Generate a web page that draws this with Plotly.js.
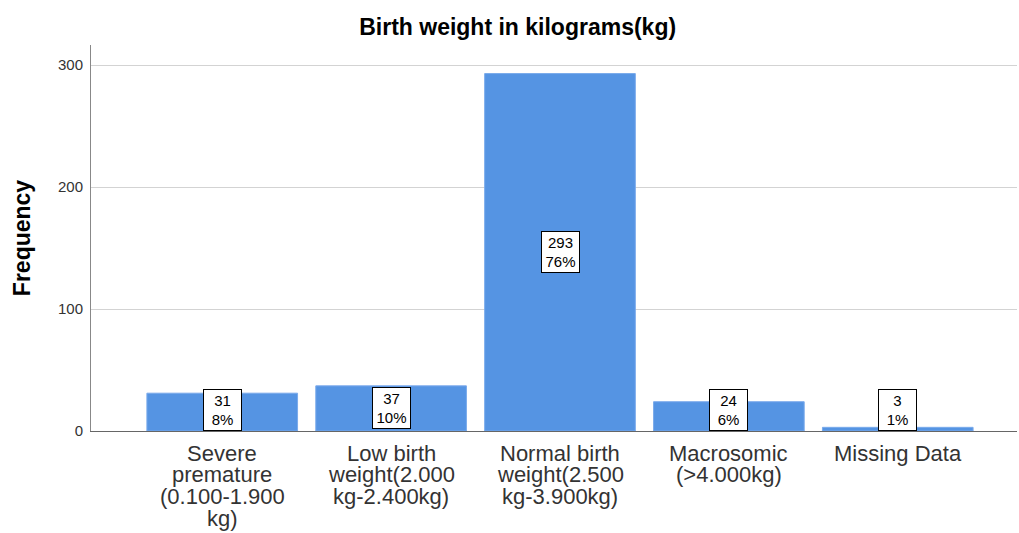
<!DOCTYPE html>
<html><head><meta charset="utf-8">
<script src="https://cdn.plot.ly/plotly-3.0.1.min.js"></script>
<style>html,body{margin:0;padding:0;background:#fff;}#chart{width:1019px;height:533px;}</style>
</head><body><div id="chart"></div>
<script>
const categories = [
  "Severe<br>premature<br>(0.100-1.900<br>kg)",
  "Low birth<br>weight(2.000<br>kg-2.400kg)",
  "Normal birth<br>weight(2.500<br>kg-3.900kg)",
  "Macrosomic<br>(>4.000kg)",
  "Missing Data"
];
const frequencies = [31, 37, 293, 24, 3];
const percentLabels = ["8%", "10%", "76%", "6%", "1%"];
const yTicks = [0, 100, 200, 300];

const FONT = 'Liberation Sans, Arial, sans-serif';
const xIdx = categories.map((_, i) => i);
const minCenter = 17.5;
const annotations = frequencies.map((v, i) => ({
  x: i, y: Math.max(v / 2, minCenter), xref: 'x', yref: 'y',
  text: v + '<br>' + percentLabels[i], showarrow: false,
  bgcolor: '#ffffff', bordercolor: '#000000', borderwidth: 1, borderpad: 1,
  width: 35, height: 38,
  font: {family: FONT, size: 15, color: '#000'},
  yanchor: 'middle'
}));
// category labels, one annotation per line for tight SPSS-like line spacing
categories.forEach((c, i) => {
  c.split('<br>').forEach((line, k) => {
    annotations.push({
      x: i, y: 0, xref: 'x', yref: 'y', text: line, showarrow: false,
      yanchor: 'middle', xanchor: 'center', yshift: -(22 + k * 21.7),
      font: {family: FONT, size: 22, color: '#333'}
    });
  });
});

Plotly.newPlot('chart', [{
  type: 'bar', x: xIdx, y: frequencies, width: 0.892,
  marker: {color: '#5594e3', line: {color: '#7aaaeb', width: 1}},
  hoverinfo: 'none'
}], {
  width: 1019, height: 533,
  margin: {l: 91, r: 2, t: 45, b: 102},
  paper_bgcolor: '#fff', plot_bgcolor: '#fff',
  font: {family: FONT, color: '#222'},
  title: {text: '<b>Birth weight in kilograms(kg)</b>', x: 0.508, xanchor: 'center', y: 0.95, yanchor: 'middle',
          font: {size: 23, color: '#000'}},
  xaxis: {range: [-0.777, 4.706], tickmode: 'array', tickvals: xIdx,
          showgrid: false, zeroline: false, showline: true, linecolor: '#666', linewidth: 1,
          ticks: '', showticklabels: false, fixedrange: true},
  yaxis: {range: [0, 316.4], tickmode: 'array', tickvals: yTicks, ticktext: yTicks.map(String),
          showgrid: true, gridcolor: '#d3d3d3', gridwidth: 1, zeroline: false,
          showline: true, linecolor: '#888', linewidth: 1, ticks: '', ticklabelstandoff: 4,
          tickfont: {size: 15, color: '#333'},
          title: {text: '<b>Frequency</b>', font: {size: 23, color: '#000'}, standoff: 20}},
  annotations: annotations,
  showlegend: false,
  bargap: 0
}, {displayModeBar: false, staticPlot: true});
</script></body></html>
